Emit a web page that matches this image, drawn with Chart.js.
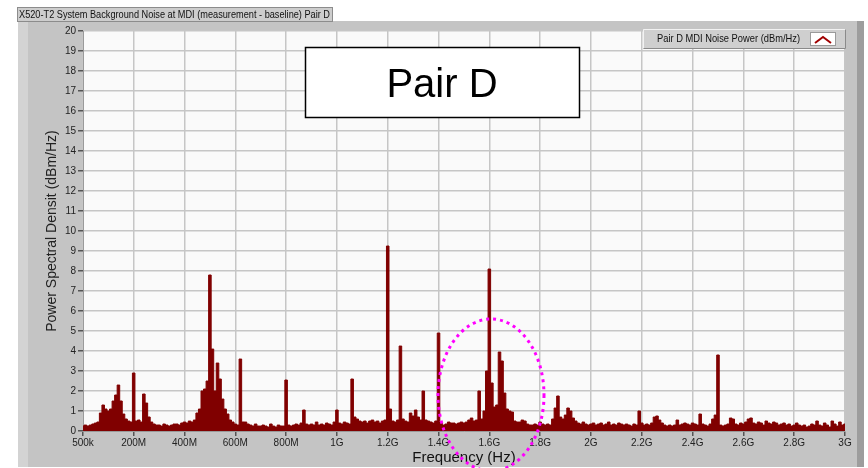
<!DOCTYPE html>
<html>
<head>
<meta charset="utf-8">
<title>Pair D MDI Noise Power</title>
<script src="https://cdn.jsdelivr.net/npm/chart.js@4.4.1/dist/chart.umd.min.js"></script>
<style>
  html, body { margin: 0; padding: 0; background: #fff; }
  #noiseChart { display: block; }
</style>
</head>
<body>
<canvas id="noiseChart" width="868" height="468"></canvas>
<script>
// trace is sampled every 10 MHz from 0 to 3 GHz
const traceStartMHz = 0;
const traceStepMHz = 10;

// Pair D MDI noise power (dBm/Hz), one row per 100 MHz
const noisePower = [
  0.25, 0.3, 0.25, 0.3, 0.35, 0.4, 0.45, 0.9, 1.3, 1.1,
  1.0, 1.1, 1.5, 1.8, 2.3, 1.5, 0.85, 0.6, 0.5, 0.45,
  2.9, 0.5, 0.55, 0.45, 1.85, 1.4, 0.7, 0.45, 0.35, 0.3,
  0.3, 0.25, 0.35, 0.3, 0.25, 0.3, 0.35, 0.35, 0.3, 0.4,
  0.45, 0.4, 0.5, 0.45, 0.55, 0.9, 1.1, 2.0, 2.1, 2.5,
  7.8, 4.1, 2.0, 3.4, 2.6, 1.6, 1.1, 0.85, 0.55, 0.45,
  0.35, 0.3, 3.6, 0.45, 0.45, 0.35, 0.3, 0.25, 0.35, 0.25,
  0.25, 0.3, 0.25, 0.2, 0.35, 0.25, 0.2, 0.3, 0.25, 0.25,
  2.55, 0.3, 0.25, 0.3, 0.35, 0.3, 0.4, 1.05, 0.35, 0.3,
  0.35, 0.3, 0.45, 0.3, 0.35, 0.3, 0.4, 0.35, 0.3, 0.45,
  1.05, 0.4, 0.35, 0.45, 0.4, 0.35, 2.6, 0.7, 0.6, 0.5,
  0.45, 0.5, 0.4, 0.5, 0.55, 0.45, 0.5, 0.4, 0.5, 0.55,
  9.25, 1.1, 0.5, 0.45, 0.55, 4.25, 0.6, 0.5, 0.45, 0.9,
  0.75, 1.05, 0.7, 0.55, 2.0, 0.55, 0.5, 0.45, 0.4, 0.5,
  4.9, 0.45, 0.3, 0.35, 0.45, 0.4, 0.4, 0.35, 0.4, 0.45,
  0.4, 0.45, 0.55, 0.65, 0.5, 0.55, 2.0, 0.6, 1.0, 3.0,
  8.1, 2.4, 1.2, 1.3, 3.95, 3.5, 1.9, 1.1, 1.0, 0.95,
  0.5, 0.45, 0.45, 0.55, 0.5, 0.35, 0.3, 0.3, 0.35, 0.3,
  0.45, 0.35, 0.3, 0.35, 0.3, 0.6, 1.15, 1.75, 0.7, 0.6,
  0.8, 1.15, 1.0, 0.65, 0.5, 0.4, 0.35, 0.45, 0.35, 0.3,
  0.35, 0.4, 0.3, 0.35, 0.4, 0.3, 0.35, 0.45, 0.3, 0.35,
  0.3, 0.4, 0.35, 0.3, 0.35, 0.3, 0.25, 0.35, 0.3, 1.0,
  0.4, 0.3, 0.35, 0.3, 0.4, 0.7, 0.75, 0.55, 0.4, 0.3,
  0.25, 0.3, 0.25, 0.3, 0.55, 0.3, 0.35, 0.4, 0.35, 0.3,
  0.4, 0.35, 0.3, 0.85, 0.35, 0.3, 0.25, 0.35, 0.6, 0.8,
  3.8, 0.3, 0.25, 0.3, 0.35, 0.65, 0.6, 0.35, 0.3, 0.4,
  0.35, 0.45, 0.6, 0.65, 0.4, 0.35, 0.45, 0.4, 0.3, 0.5,
  0.4, 0.35, 0.45, 0.4, 0.3, 0.35, 0.4, 0.3, 0.35, 0.25,
  0.3, 0.4, 0.3, 0.25, 0.3, 0.2, 0.25, 0.35, 0.3, 0.5,
  0.3, 0.25, 0.4, 0.3, 0.2, 0.5, 0.35, 0.25, 0.45, 0.3,
  0.35
];

// x axis ticks (MHz) and their labels
const xTickValues = [0.5, 200, 400, 600, 800, 1000, 1200, 1400, 1600, 1800, 2000, 2200, 2400, 2600, 2800, 3000];
const xTickLabels = ['500k', '200M', '400M', '600M', '800M', '1G', '1.2G', '1.4G', '1.6G', '1.8G', '2G', '2.2G', '2.4G', '2.6G', '2.8G', '3G'];

const plotTitle = 'X520-T2 System Background Noise at MDI (measurement - baseline) Pair D';
const seriesName = 'Pair D MDI Noise Power (dBm/Hz)';
const noteText = 'Pair D';

const sansFont = "'Liberation Sans', Arial, sans-serif";
const traceColor = '#800000';

// squeeze a label into a given width (the original UI font is a narrow one)
function narrowText(ctx, text, x, y, width) {
  const w = ctx.measureText(text).width;
  ctx.save();
  ctx.translate(x, y);
  ctx.scale(Math.min(1, width / w), 1);
  ctx.fillText(text, 0, 0);
  ctx.restore();
}

// frame, title tab, legend, note box and the highlight ellipse
const framePlugin = {
  id: 'frame',
  beforeDraw(chart) {
    const ctx = chart.ctx;
    const a = chart.chartArea;
    ctx.save();
    ctx.fillStyle = '#ffffff';
    ctx.fillRect(0, 0, chart.width, chart.height);
    ctx.fillStyle = '#c4c4c4';
    ctx.fillRect(18, 21, 840, 446);
    ctx.fillStyle = '#d3d3d3';
    ctx.fillRect(18, 21, 10, 446);
    ctx.fillStyle = '#9d9d9d';
    ctx.fillRect(857, 21, 7, 446);

    ctx.fillStyle = '#cdcdcd';
    ctx.fillRect(18, 8, 314, 13);
    ctx.strokeStyle = '#8c8c8c';
    ctx.lineWidth = 1;
    ctx.strokeRect(17.5, 7.5, 315, 14);
    ctx.fillStyle = '#111';
    ctx.font = '11px ' + sansFont;
    ctx.textBaseline = 'middle';
    narrowText(ctx, plotTitle, 19, 15, 311);

    ctx.fillStyle = '#fafafa';
    ctx.fillRect(a.left, a.top, a.right - a.left, a.bottom - a.top);
    ctx.restore();
  },
  afterDraw(chart) {
    const ctx = chart.ctx;
    ctx.save();

    // legend
    ctx.fillStyle = '#cfcfcf';
    ctx.fillRect(643, 29, 203, 20);
    ctx.strokeStyle = '#f2f2f2';
    ctx.lineWidth = 1;
    ctx.beginPath();
    ctx.moveTo(643.5, 48.5); ctx.lineTo(643.5, 29.5); ctx.lineTo(845.5, 29.5);
    ctx.stroke();
    ctx.strokeStyle = '#8a8a8a';
    ctx.beginPath();
    ctx.moveTo(845.5, 29.5); ctx.lineTo(845.5, 48.5); ctx.lineTo(643.5, 48.5);
    ctx.stroke();
    ctx.fillStyle = '#111';
    ctx.font = '11px ' + sansFont;
    ctx.textBaseline = 'middle';
    narrowText(ctx, seriesName, 657, 39, 143);
    ctx.fillStyle = '#ffffff';
    ctx.fillRect(810, 32, 26, 14);
    ctx.strokeStyle = '#9a9a9a';
    ctx.strokeRect(810.5, 32.5, 25, 13);
    ctx.strokeStyle = '#a00000';
    ctx.lineWidth = 2;
    ctx.beginPath();
    ctx.moveTo(815, 43); ctx.lineTo(823, 37); ctx.lineTo(831, 43);
    ctx.stroke();

    // note box
    ctx.fillStyle = '#ffffff';
    ctx.fillRect(305, 47, 275, 71);
    ctx.strokeStyle = '#000';
    ctx.lineWidth = 1.5;
    ctx.strokeRect(305.5, 47.5, 274, 70);
    ctx.fillStyle = '#000';
    ctx.font = '40px ' + sansFont;
    ctx.textAlign = 'center';
    ctx.fillText(noteText, 442, 86);

    // highlight around 1.6 GHz
    ctx.strokeStyle = '#ff00ff';
    ctx.lineWidth = 3;
    ctx.setLineDash([3, 4]);
    ctx.beginPath();
    ctx.ellipse(491, 395, 53, 76, 0, 0, Math.PI * 2);
    ctx.stroke();
    ctx.restore();
  }
};

const ctx = document.getElementById('noiseChart').getContext('2d');
const noiseChart = new Chart(ctx, {
  type: 'line',
  data: {
    datasets: [{
      label: seriesName,
      data: noisePower.map((v, i) => ({ x: traceStartMHz + i * traceStepMHz, y: v })),
      borderColor: traceColor,
      backgroundColor: traceColor,
      borderWidth: 1,
      fill: 'origin',
      stepped: 'middle',
      pointRadius: 0
    }]
  },
  options: {
    responsive: false,
    animation: false,
    devicePixelRatio: 1,
    layout: { padding: { left: 0, right: 23, top: 31, bottom: 0 } },
    plugins: {
      legend: { display: false },
      tooltip: { enabled: false }
    },
    scales: {
      x: {
        type: 'linear',
        min: 0.5,
        max: 3000,
        afterFit(scale) { scale.height = 37; },
        afterBuildTicks(scale) {
          scale.ticks = xTickValues.map(v => ({ value: v }));
        },
        ticks: {
          autoSkip: false,
          maxRotation: 0,
          padding: 1,
          color: '#222',
          font: { family: sansFont, size: 10 },
          callback: (value, index) => xTickLabels[index]
        },
        grid: { color: '#c6c6c6', lineWidth: 1.5, tickLength: 5, tickColor: '#555' },
        border: { color: '#9a9a9a' },
        title: {
          display: true,
          text: 'Frequency (Hz)',
          color: '#111',
          font: { family: sansFont, size: 15 },
          padding: { top: 0, bottom: 1 }
        }
      },
      y: {
        min: 0,
        max: 20,
        afterFit(scale) { scale.width = 83; },
        ticks: {
          stepSize: 1,
          autoSkip: false,
          padding: 2,
          color: '#222',
          font: { family: sansFont, size: 10 }
        },
        grid: { color: '#c6c6c6', lineWidth: 1.5, tickLength: 5, tickColor: '#555' },
        border: { color: '#9a9a9a' },
        title: {
          display: true,
          text: 'Power Spectral Densit (dBm/Hz)',
          color: '#222',
          font: { family: sansFont, size: 14 },
          padding: { top: 44, bottom: 0 }
        }
      }
    }
  },
  plugins: [framePlugin]
});
</script>
</body>
</html>
